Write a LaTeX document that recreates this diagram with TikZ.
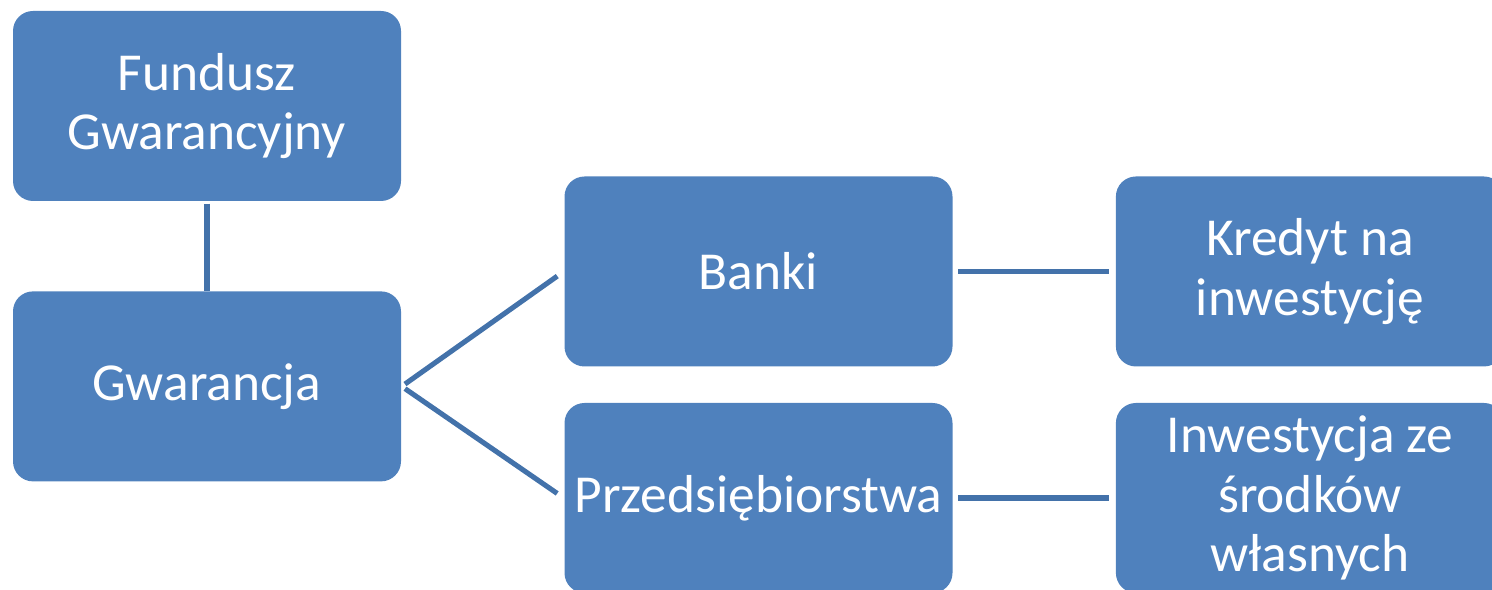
\documentclass[tikz,border=0pt]{standalone}
\usepackage{fontspec}
\setmainfont{Carlito}
\usepackage{xcolor}
\usetikzlibrary{positioning}
\definecolor{boxblue}{HTML}{4F81BD}
\definecolor{linkblue}{HTML}{4372AA}
\tikzset{orgbox/.style={draw=none, fill=boxblue, rounded corners=0.2cm,
minimum width=3.88cm, minimum height=1.90cm, inner xsep=1pt, align=center, text=white,
font=\fontsize{15.2}{16.9}\selectfont},
link/.style={draw=linkblue, line width=1.45pt}}

\begin{document}
\begin{tikzpicture}
				\useasboundingbox (0,0) rectangle (14.92,5.90);

				\node[orgbox] (fund) at (2.07,4.84) {Fundusz\\Gwarancyjny};
				\node[orgbox, below=0.89cm of fund] (gwar) {Gwarancja};
				\node[orgbox] (banki) at (7.585,3.185) {Banki};
				\node[orgbox] (przed) at (7.585,0.92) {Przedsiębiorstwa};
				\node[orgbox, right=1.62cm of banki] (kred) {Kredyt na\\inwestycję};
				\node[orgbox, right=1.62cm of przed] (inwest) {Inwestycja ze\\środków\\własnych};

				\draw[link, shorten <=0.02cm] (fund) -- (gwar);
				\draw[link, shorten <=0.04cm, shorten >=0.08cm] (gwar.east) -- (banki.west);
				\draw[link, shorten <=0.04cm, shorten >=0.08cm] (gwar.east) -- (przed.west);
				\draw[link, shorten <=0.05cm, shorten >=0.06cm] (banki) -- (kred);
				\draw[link, shorten <=0.05cm, shorten >=0.06cm] (przed) -- (inwest);
\end{tikzpicture}
\end{document}
